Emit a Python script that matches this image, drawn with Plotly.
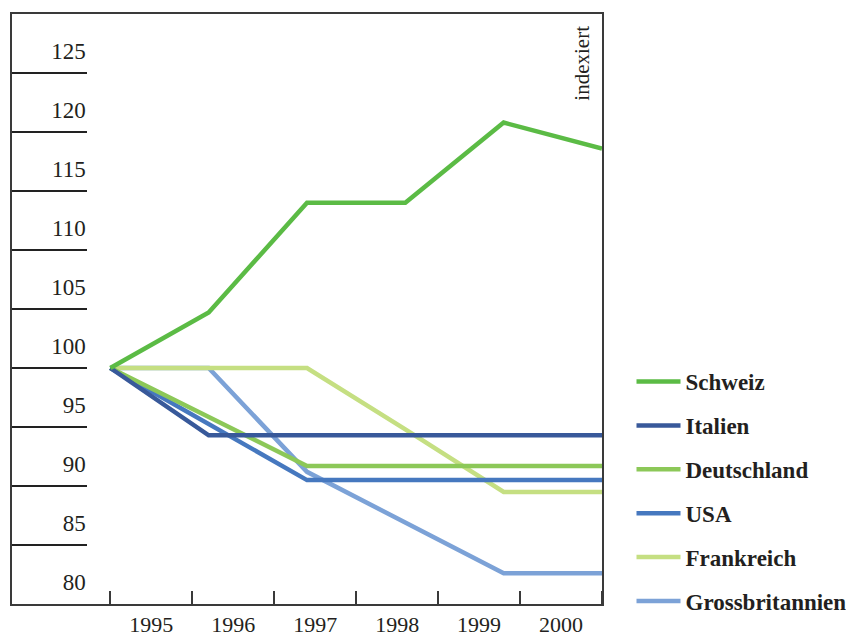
import plotly.graph_objects as go

# ---- data ----
years = [1995, 1996, 1997, 1998, 1999, 2000]
schweiz = [100, 104.7, 114.0, 114.0, 120.8, 118.6]
italien = [100, 94.3, 94.3, 94.3, 94.3, 94.3]
deutschland = [100, 95.8, 91.7, 91.7, 91.7, 91.7]
usa = [100, 95.2, 90.5, 90.5, 90.5, 90.5]
frankreich = [100, 100, 100, 94.8, 89.5, 89.5]
grossbritannien = [100, 100, 91.2, 86.9, 82.6, 82.6]
y_tick_values = [80, 85, 90, 95, 100, 105, 110, 115, 120, 125]
y_tick_labels = ["80", "85", "90", "95", "100", "105", "110", "115", "120", "125"]
unit_label = "indexiert"

series = [
    ("Schweiz", schweiz, "#5BBB45"),
    ("Italien", italien, "#38599A"),
    ("Deutschland", deutschland, "#8CC858"),
    ("USA", usa, "#4678BF"),
    ("Frankreich", frankreich, "#C5DF82"),
    ("Grossbritannien", grossbritannien, "#7CA2D7"),
]

n = len(years)
xs = list(range(n))
step = (n - 1) / n
x_tick_marks = [k * step for k in range(n + 1)]
x_label_pos = [(k + 0.5) * step for k in range(n)]

FONT = "Liberation Serif"
TXT = "#231f20"
FRAME = "#3a3a3a"

fig = go.Figure()
# draw in reverse so first series is on top
for rank, (name, vals, col) in reversed(list(enumerate(series))):
    fig.add_trace(go.Scatter(
        x=xs, y=vals, name=name, mode="lines",
        line=dict(color=col, width=4.5),
        legendgroup=name, legendrank=rank + 1,
        hoverinfo="skip",
    ))

# dummy trace for the label axis
fig.add_trace(go.Scatter(x=[None], y=[None], yaxis="y2", showlegend=False,
                         hoverinfo="skip"))

fig.update_layout(
    width=854, height=635,
    margin=dict(l=4, r=260, t=6, b=39, autoexpand=False),
    paper_bgcolor="white", plot_bgcolor="white",
    font=dict(family=FONT, color=TXT, size=21),
    showlegend=True,
    legend=dict(
        x=1.05, xanchor="left", y=0.4135, yanchor="top",
        font=dict(family=FONT, size=23, color=TXT, weight="bold"),
        tracegroupgap=11, itemwidth=44, bgcolor="rgba(0,0,0,0)",
    ),
    xaxis=dict(
        range=[-1, n - 1], showgrid=False, zeroline=False, automargin=False,
        showline=True, linecolor=FRAME, linewidth=1.5, mirror=True,
        tickmode="array", tickvals=x_label_pos, ticktext=[str(y) for y in years],
        ticks="", ticklabelstandoff=0,
        tickfont=dict(family=FONT, size=22, color=TXT),
        minor=dict(tickmode="array", tickvals=x_tick_marks, ticks="inside",
                   ticklen=13, tickwidth=1.5, tickcolor=FRAME, showgrid=False),
    ),
    yaxis=dict(
        range=[80, 130], showgrid=False, zeroline=False, automargin=False,
        showline=True, linecolor=FRAME, linewidth=1.5, mirror=True,
        tickmode="array", tickvals=y_tick_values[1:], ticks="inside",
        ticklen=75, tickwidth=1.5, tickcolor="#222", showticklabels=False,
    ),
    yaxis2=dict(
        overlaying="y", anchor="free", position=0.125, side="left",
        range=[80, 130], showgrid=False, zeroline=False, showline=False,
        automargin=False,
        tickmode="array", tickvals=[v + 1.9 for v in y_tick_values],
        ticktext=y_tick_labels, ticks="",
        tickfont=dict(family=FONT, size=23, color=TXT),
    ),
    annotations=[dict(
        text=unit_label, xref="paper", yref="paper", x=0.9646, y=0.983,
        xanchor="center", yanchor="top",
        textangle=-90, showarrow=False, font=dict(family=FONT, size=21, color=TXT),
    )],
)

fig.write_html("out.html")
